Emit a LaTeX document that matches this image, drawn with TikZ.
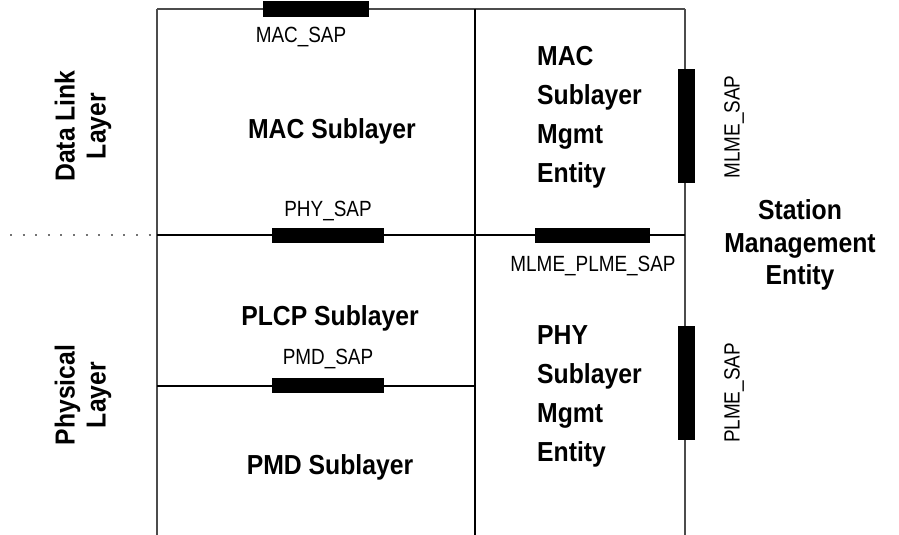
\documentclass[tikz,border=0pt]{standalone}
\usepackage{fontspec}
\setmainfont{Liberation Sans}[FakeStretch=0.86]
\newfontfamily\boldlbl{Liberation Sans}[FakeStretch=0.9]
\usetikzlibrary{positioning}

\begin{document}
\begin{tikzpicture}[x=1pt,y=-1pt,
  hbar/.style={fill=black,inner sep=0pt,minimum width=112pt,minimum height=15pt},
  vbar/.style={fill=black,inner sep=0pt,minimum width=17pt,minimum height=114pt},
  sap/.style={font=\fontsize{22}{24}\selectfont,inner sep=0pt},
  sub/.style={font=\boldlbl\fontsize{27.5}{31}\selectfont\bfseries,inner sep=0pt,align=center},
  ent/.style={font=\boldlbl\fontsize{27.5}{39}\selectfont\bfseries,align=left,inner sep=0pt,anchor=west},
  ln/.style={line width=1.3pt,draw=black!70}]
\useasboundingbox (0,0) rectangle (899,535);
% frame
\coordinate (tl) at (157,9);
\coordinate (tm) at (475,9);
\coordinate (tr) at (685,9);
\coordinate (bl) at (157,535);
\coordinate (bm) at (475,535);
\coordinate (br) at (685,535);
\coordinate (ml) at (157,235);
\coordinate (mr) at (685,235);
\coordinate (pl) at (157,386);
\coordinate (pm) at (475,386);
\coordinate (dl) at (10,235);
\draw[ln] (tl)--(tr);
\draw[ln] (tl)--(bl);
\draw[ln] (tr)--(br);
\draw[ln,draw=black] (tm)--(bm);
\draw[ln,draw=black] (ml)--(mr);
\draw[ln,draw=black] (pl)--(pm);
\draw[draw=black!55,line width=2pt,dash pattern=on 2pt off 10.6pt] (dl)--(ml);
% access points
\node[hbar,minimum width=106pt,minimum height=16pt] (macsap) at (316,9) {};
\node[hbar] (physap) at (328,235.5) {};
\node[hbar] (pmdsap) at (328,385.5) {};
\node[hbar,minimum width=115pt] (mpsap) at (592.5,235.5) {};
\node[vbar] (mlmesap) at (686.5,126) {};
\node[vbar] (plmesap) at (686.5,383) {};
\node[sap] (macsapl) at (301,37) {MAC\_SAP};
\node[sap] (physapl) at (328,211) {PHY\_SAP};
\node[sap] (pmdsapl) at (328,359) {PMD\_SAP};
\node[sap] (mpsapl) at (593,266) {MLME\_PLME\_SAP};
\node[sap,rotate=90] (mlmesapl) at (734,127) {MLME\_SAP};
\node[sap,rotate=90] (plmesapl) at (734,393) {PLME\_SAP};
% sublayers and entities
\node[sub] (mac) at (332,131) {MAC Sublayer};
\node[sub] (plcp) at (330,318) {PLCP Sublayer};
\node[sub] (pmd) at (330,467) {PMD Sublayer};
\node[ent] (macme) at (537,117) {MAC\\Sublayer\\Mgmt\\Entity};
\node[ent] (phyme) at (537,396) {PHY\\Sublayer\\Mgmt\\Entity};
\node[sub,font=\boldlbl\fontsize{27.5}{32.5}\selectfont\bfseries] (sme) at (800,245) {Station\\Management\\Entity};
\node[sub,rotate=90] (dll) at (83,126) {Data Link\\Layer};
\node[sub,rotate=90] (phl) at (83,395) {Physical\\Layer};
\end{tikzpicture}
\end{document}
